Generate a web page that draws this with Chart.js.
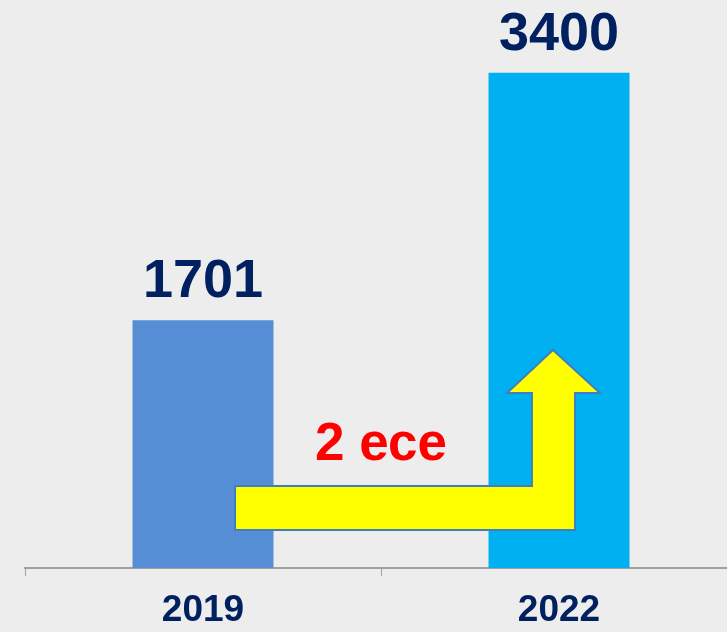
<!DOCTYPE html>
<html>
<head>
<meta charset="utf-8">
<script src="https://cdn.jsdelivr.net/npm/chart.js@4/dist/chart.umd.min.js"></script>
<style>
  html, body { margin:0; padding:0; background:#ededed; width:727px; height:632px; overflow:hidden; }
  #c { position:absolute; left:0; top:0; width:760px; height:650px; }
</style>
</head>
<body>
<canvas id="c" width="760" height="650"></canvas>
<script>
const categories = ['2019', '2022'];
const values = [1701, 3400];
const barColors = ['#558ed5', '#00b0f0'];
const ratioText = '2 есе';

const labelPlugin = {
  id: 'valueLabels',
  afterDatasetsDraw(chart) {
    const ctx = chart.ctx;
    const meta = chart.getDatasetMeta(0);
    ctx.save();
    ctx.fillStyle = '#002060';
    ctx.font = 'bold 54px "Liberation Sans", Arial, sans-serif';
    ctx.textAlign = 'center';
    ctx.textBaseline = 'alphabetic';
    meta.data.forEach((bar, i) => {
      ctx.fillText(String(values[i]), bar.x, bar.y - 23);
    });
    ctx.restore();
  }
};

const arrowPlugin = {
  id: 'growthArrow',
  afterDatasetsDraw(chart) {
    const ctx = chart.ctx;
    const xs = chart.scales.x, ys = chart.scales.y;
    const c0 = xs.getPixelForValue(0), c1 = xs.getPixelForValue(1);
    const step = c1 - c0;
    const left = c0 + step * 0.09;
    const innerR = c1 - step * 0.076;
    const outerR = c1 + step * 0.045;
    const headL = c1 - step * 0.146;
    const headR = c1 + step * 0.115;
    const tipX = c1 - step * 0.017;
    const yTop = ys.getPixelForValue(563);
    const yBot = ys.getPixelForValue(261);
    const yNeck = ys.getPixelForValue(1202);
    const yTip = ys.getPixelForValue(1497);
    ctx.save();
    ctx.beginPath();
    ctx.moveTo(left, yTop);
    ctx.lineTo(innerR, yTop);
    ctx.lineTo(innerR, yNeck);
    ctx.lineTo(headL, yNeck);
    ctx.lineTo(tipX, yTip);
    ctx.lineTo(headR, yNeck);
    ctx.lineTo(outerR, yNeck);
    ctx.lineTo(outerR, yBot);
    ctx.lineTo(left, yBot);
    ctx.closePath();
    ctx.fillStyle = '#ffff00';
    ctx.fill();
    ctx.lineWidth = 2;
    ctx.strokeStyle = '#3f7fbf';
    ctx.stroke();
    ctx.fillStyle = '#ff0000';
    ctx.font = 'bold 53px "Liberation Sans", Arial, sans-serif';
    ctx.textAlign = 'center';
    ctx.textBaseline = 'alphabetic';
    ctx.fillText(ratioText, xs.getPixelForValue(0.5), ys.getPixelForValue(742));
    ctx.restore();
  }
};

new Chart(document.getElementById('c'), {
  type: 'bar',
  data: {
    labels: categories,
    datasets: [{
      data: values,
      backgroundColor: barColors,
      borderWidth: 0,
      categoryPercentage: 1,
      barPercentage: 0.396
    }]
  },
  options: {
    responsive: false,
    animation: false,
    layout: { padding: { left: 25, right: 23, top: 0, bottom: 3.6 } },
    plugins: { legend: { display: false }, tooltip: { enabled: false } },
    scales: {
      x: {
        grid: { display: true, drawOnChartArea: false, drawTicks: true, tickLength: 8, color: '#a0a0a0', offset: true, lineWidth: 1 },
        border: { display: true, color: '#a0a0a0', width: 2 },
        ticks: { color: '#002060', font: { family: '"Liberation Sans", Arial, sans-serif', size: 37, weight: 'bold' }, padding: 13 }
      },
      y: { display: false, min: 0, max: 3900 }
    }
  },
  plugins: [labelPlugin, arrowPlugin]
});
</script>
</body>
</html>
